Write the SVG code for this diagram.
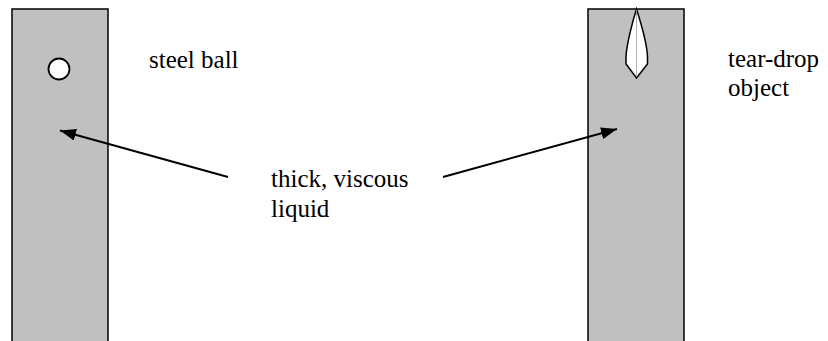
<svg xmlns="http://www.w3.org/2000/svg" width="828" height="341" viewBox="0 0 828 341">
<defs>
<marker id="arr" viewBox="0 0 16 12" refX="16" refY="6" markerWidth="16" markerHeight="12" markerUnits="userSpaceOnUse" orient="auto">
<path d="M0,0 L16,6 L0,12 z" fill="#000"/>
</marker>
</defs>
<g id="left-tube">
<rect x="12" y="9" width="96" height="340" fill="#c0c0c0" stroke="#000" stroke-width="1.5"/>
<circle cx="59" cy="69" r="10.5" fill="#fff" stroke="#000" stroke-width="1.8"/>
</g>
<g id="right-tube">
<rect x="588" y="9" width="96" height="340" fill="#c0c0c0" stroke="#000" stroke-width="1.5"/>
<path d="M636.5,9 C633,20 626,46 626,58 L626,64 L636.5,78 L647.5,64 L647.5,58 C647.5,46 640,20 636.5,9 Z" fill="#fff" stroke="#000" stroke-width="1.5"/>
<line x1="636.5" y1="10" x2="636.5" y2="77" stroke="#a0a0a0" stroke-width="0.8"/>
</g>
<text x="149" y="68" font-size="25" font-family="'Liberation Serif'">steel ball</text>
<text x="728" y="67" font-size="25" font-family="'Liberation Serif'">tear-drop</text>
<text x="728" y="96" font-size="25" font-family="'Liberation Serif'">object</text>
<text x="271" y="187" font-size="25" font-family="'Liberation Serif'">thick, viscous</text>
<text x="271" y="217" font-size="25" font-family="'Liberation Serif'">liquid</text>
<g id="connectors" stroke="#000" stroke-width="2" fill="none">
<line x1="228" y1="177" x2="60" y2="130.5" marker-end="url(#arr)"/>
<line x1="443" y1="177" x2="617" y2="129" marker-end="url(#arr)"/>
</g>
</svg>
